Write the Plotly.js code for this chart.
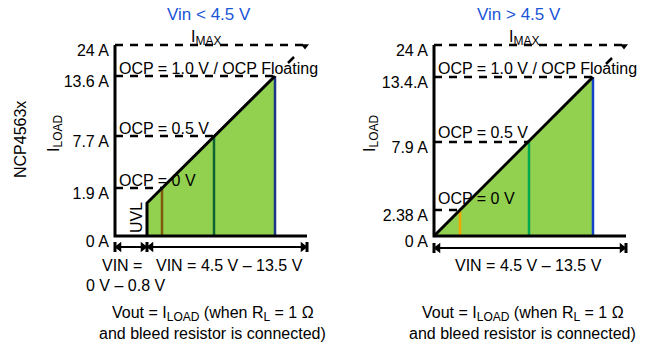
<!DOCTYPE html>
<html><head><meta charset="utf-8">
<script src="https://cdn.plot.ly/plotly-3.0.1.min.js"></script>
<style>html,body{margin:0;padding:0;background:#fff}</style>
</head><body><div id="chart" style="width:645px;height:347px"></div>
<script>
// ---- data (schematic positions, px units above baseline / right of axis) ----
const leftTitle = 'Vin < 4.5 V';
const leftTickLabels = ['0 A', '1.9 A', '7.7 A', '13.6 A', '24 A'];
const leftTickPos = [0, 48, 100, 160, 191];
const leftUvl = [32, 33];
const leftOcpX = [47, 99, 160];
const leftOcpY = [48, 100, 160];
const leftOcpColors = ['#7d5a10', '#0d6332', '#1d3585'];
const ocpLabels = ['OCP = 0 V', 'OCP = 0.5 V', 'OCP = 1.0 V / OCP Floating'];

const rightTitle = 'Vin > 4.5 V';
const rightTickLabels = ['0 A', '2.38 A', '7.9 A', '13.4.A', '24 A'];
const rightTickPos = [0, 26, 94, 159, 191];
const rightStart = [0, 0];
const rightOcpX = [26, 95, 159];
const rightOcpY = [26, 94, 159];
const rightOcpColors = ['#f2a800', '#00a94f', '#1444c8'];

const imaxLevel = 191;
const axisEnd = 192;

const FONT = 'Liberation Sans, Arial, Helvetica, sans-serif';
const FS = 16;
const W = 645, H = 347;
const px = v => v / W;
const py = v => 1 - v / H;

const traces = [];
const annotations = [];

function panel(xa, ya, start, ocpX, ocpY, colors, labelOffsets) {
  const topX = ocpX[ocpX.length - 1], topY = ocpY[ocpY.length - 1];
  traces.push({x: [start[0], start[0], topX, topX], y: [0, start[1], topY, 0], xaxis: xa, yaxis: ya,
    mode: 'lines', fill: 'toself', fillcolor: '#92d050', line: {width: 0}, hoverinfo: 'skip'});
  ocpX.forEach((xv, i) => {
    traces.push({x: [xv, xv], y: [0, ocpY[i]], xaxis: xa, yaxis: ya, mode: 'lines',
      line: {color: colors[i], width: 2.5}, hoverinfo: 'skip'});
  });
  ocpX.forEach((xv, i) => {
    traces.push({x: [0, xv], y: [ocpY[i], ocpY[i]], xaxis: xa, yaxis: ya, mode: 'lines',
      line: {color: '#000', width: 2.5, dash: '8px,7px'}, hoverinfo: 'skip'});
  });
  traces.push({x: [0, axisEnd - 3], y: [imaxLevel, imaxLevel], xaxis: xa, yaxis: ya, mode: 'lines',
    line: {color: '#000', width: 2.5, dash: '8px,7px'}, hoverinfo: 'skip'});
  traces.push({x: [axisEnd - 2], y: [imaxLevel - 1], xaxis: xa, yaxis: ya, mode: 'markers',
    marker: {symbol: 'triangle-down', size: 7, color: '#000'}, hoverinfo: 'skip'});
  traces.push({x: [topX + 13, topX + 19], y: [topY + 13, topY + 19], xaxis: xa, yaxis: ya, mode: 'lines',
    line: {color: '#000', width: 2.5}, hoverinfo: 'skip'});
  traces.push({x: [start[0], start[0], topX], y: [0, start[1], topY], xaxis: xa, yaxis: ya, mode: 'lines',
    line: {color: '#000', width: 3}, hoverinfo: 'skip'});
  traces.push({x: [0, 0, axisEnd], y: [imaxLevel, 0, 0], xaxis: xa, yaxis: ya, mode: 'lines',
    line: {color: '#000', width: 3}, hoverinfo: 'skip'});
  ocpX.forEach((xv, i) => {
    annotations.push({xref: xa, yref: ya, x: 2, y: ocpY[i] + labelOffsets[i], xanchor: 'left', yanchor: 'middle',
      text: ocpLabels[i], showarrow: false, font: {family: FONT, size: FS, color: '#000'}});
  });
}

function arrow(xa, ya, a, b, y) {
  traces.push({x: [a + 2, b - 2], y: [y, y], xaxis: xa, yaxis: ya, mode: 'lines',
    line: {color: '#000', width: 2}, hoverinfo: 'skip'});
  traces.push({x: [a + 4, b - 4], y: [y, y], xaxis: xa, yaxis: ya, mode: 'markers',
    marker: {symbol: ['triangle-left', 'triangle-right'], size: 9, color: '#000'}, hoverinfo: 'skip'});
}
function bars(xa, ya, xs, y) {
  const X = [], Y = [];
  xs.forEach(v => { X.push(v, v, null); Y.push(y + 5, y - 5, null); });
  traces.push({x: X, y: Y, xaxis: xa, yaxis: ya, mode: 'lines', line: {color: '#000', width: 3}, hoverinfo: 'skip'});
}

panel('x', 'y', leftUvl, leftOcpX, leftOcpY, leftOcpColors, [8, 8, 8]);
panel('x2', 'y2', rightStart, rightOcpX, rightOcpY, rightOcpColors, [12, 10, 9]);

arrow('x', 'y', 0, leftUvl[0], -11);
arrow('x', 'y', leftUvl[0], axisEnd, -11);
bars('x', 'y', [0, leftUvl[0], axisEnd], -11);
arrow('x2', 'y2', 0, axisEnd, -12);
bars('x2', 'y2', [0, axisEnd], -12);

function txt(x, y, text, opts) {
  annotations.push(Object.assign({xref: 'paper', yref: 'paper', x: px(x), y: py(y), text: text,
    showarrow: false, xanchor: 'center', yanchor: 'middle',
    font: {family: FONT, size: FS, color: '#000'}}, opts || {}));
}
const SUB = s => '<sub><span style="font-size:12px">' + s + '</span></sub>';
txt(209, 15, leftTitle, {font: {family: FONT, size: 17, color: '#1a56d6'}});
txt(519, 15, rightTitle, {font: {family: FONT, size: 17, color: '#1a56d6'}});
txt(206, 38, 'I' + SUB('MAX'));
txt(524, 38, 'I' + SUB('MAX'));
txt(20, 140, 'NCP4563x', {textangle: -90});
txt(55, 134, 'I' + SUB('LOAD'), {textangle: -90});
txt(371, 134, 'I' + SUB('LOAD'), {textangle: -90});
txt(136, 218, 'UVL', {textangle: -90});
txt(122, 265, 'VIN =');
txt(125, 285, '0 V \u2013 0.8 V');
txt(229, 265, 'VIN = 4.5 V \u2013 13.5 V');
txt(528, 265, 'VIN = 4.5 V \u2013 13.5 V');
txt(213, 314, 'Vout = I' + SUB('LOAD') + ' (when R' + SUB('L') + ' = 1 \u03a9');
txt(523, 314, 'Vout = I' + SUB('LOAD') + ' (when R' + SUB('L') + ' = 1 \u03a9');
txt(212, 333, 'and bleed resistor is connected)');
txt(522, 333, 'and bleed resistor is connected)');

const yBase = {range: [-20, 196], domain: [91 / H, 307 / H], ticks: '', showgrid: false, zeroline: false,
  showline: false, ticklabelstandoff: 3, ticklabelshift: 5, fixedrange: true,
  tickfont: {family: FONT, size: FS, color: '#000'}};
const xBase = {range: [-2, 198], showgrid: false, zeroline: false, showline: false, showticklabels: false,
  ticks: '', fixedrange: true};

const layout = {
  width: W, height: H, margin: {l: 0, r: 0, t: 0, b: 0}, showlegend: false,
  paper_bgcolor: '#fff', plot_bgcolor: 'rgba(0,0,0,0)',
  xaxis: Object.assign({}, xBase, {domain: [113 / W, 313 / W], anchor: 'y'}),
  yaxis: Object.assign({}, yBase, {anchor: 'x', tickvals: leftTickPos, ticktext: leftTickLabels}),
  xaxis2: Object.assign({}, xBase, {domain: [432 / W, 632 / W], anchor: 'y2'}),
  yaxis2: Object.assign({}, yBase, {anchor: 'x2', tickvals: rightTickPos, ticktext: rightTickLabels}),
  annotations: annotations
};
Plotly.newPlot('chart', traces, layout, {displayModeBar: false, staticPlot: true});
</script></body></html>
